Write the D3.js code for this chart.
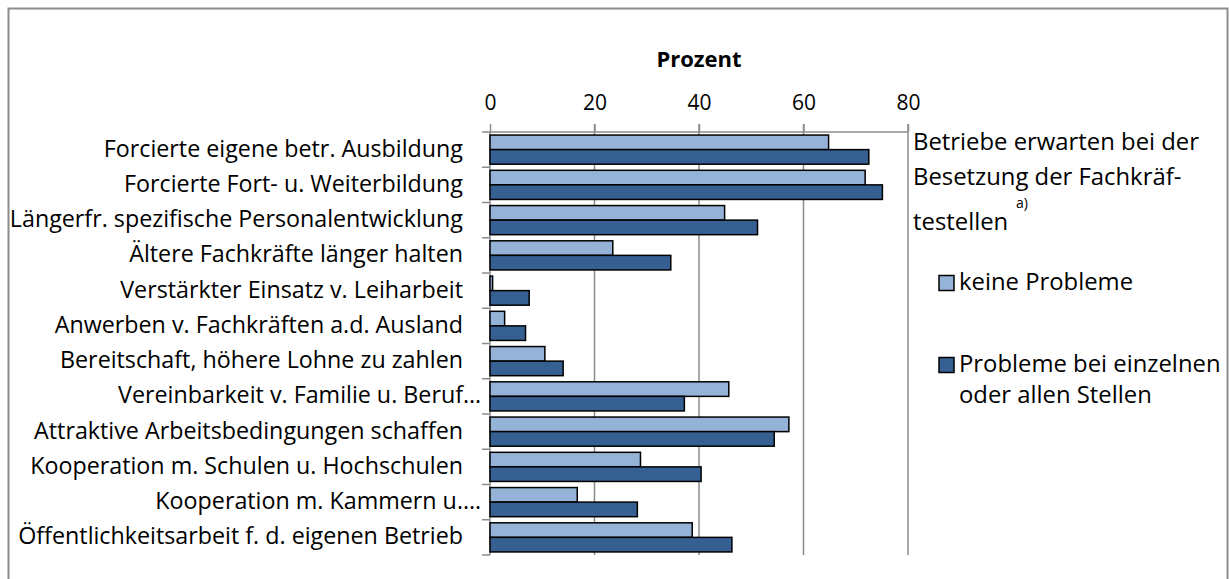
<!DOCTYPE html>
<html><head><meta charset="utf-8">
<script src="https://cdn.jsdelivr.net/npm/d3@7"></script>
<style>body{margin:0;background:#fff}svg{display:block}text{font-family:"Open Sans",sans-serif;fill:#000}</style>
</head><body><svg id="c" width="1229" height="579"></svg>
<script>
const categories = ["Forcierte eigene betr. Ausbildung","Forcierte Fort- u. Weiterbildung","Längerfr. spezifische Personalentwicklung","Ältere Fachkräfte länger halten","Verstärkter Einsatz v. Leiharbeit","Anwerben v. Fachkräften a.d. Ausland","Bereitschaft, höhere Lohne zu zahlen","Vereinbarkeit v. Familie u. Beruf…","Attraktive Arbeitsbedingungen schaffen","Kooperation m. Schulen u. Hochschulen","Kooperation m. Kammern u.…","Öffentlichkeitsarbeit f. d. eigenen Betrieb"];
const keineProbleme = [64.8,71.8,44.9,23.5,0.5,2.8,10.5,45.7,57.2,28.8,16.7,38.7];
const probleme = [72.5,75.1,51.2,34.6,7.5,6.8,14.0,37.2,54.4,40.4,28.2,46.3];
const seriesNames = ["keine Probleme","Probleme bei einzelnen oder allen Stellen"];
const xTicks = [0,20,40,60,80];
const axisTitle = "Prozent";
const legendTitle = ["Betriebe erwarten bei der","Besetzung der Fachkräf-","testellen"];
const colors = ["#95b3d7","#376092"];

const svg = d3.select("#c");
svg.append("rect").attr("x",8.5).attr("y",8.5).attr("width",1219).attr("height",600)
  .attr("fill","none").attr("stroke","#8c8c8c").attr("stroke-width",2);

const x = d3.scaleLinear().domain([0,80]).range([490,908]);
const y = d3.scaleBand().domain(categories).range([132,555]).paddingInner(0).paddingOuter(0);
const inner = d3.scaleBand().domain([0,1]).range([0,y.bandwidth()]).paddingInner(0).paddingOuter(0.21);

function fit(sel, target){
  const w = sel.node().getComputedTextLength();
  const fs = parseFloat(sel.style("font-size"));
  sel.style("font-size", (fs*target/w).toFixed(2)+"px");
  return fs*target/w;
}

// gridlines
svg.append("g").selectAll("line").data(xTicks.slice(1)).join("line")
  .attr("x1",d=>x(d)).attr("x2",d=>x(d)).attr("y1",124).attr("y2",555)
  .attr("stroke","#8c8c8c").attr("stroke-width",1.5);
// top axis
const gx = svg.append("g").attr("transform","translate(0,132)")
  .call(d3.axisTop(x).tickValues(xTicks).tickSize(8).tickPadding(14).tickFormat(d3.format("d")));
gx.select(".domain").attr("stroke","#8c8c8c").attr("stroke-width",1.5).attr("d",`M${x(0)},0H${x(80)}`);
gx.selectAll(".tick line").attr("stroke","#8c8c8c").attr("stroke-width",1.5);
gx.selectAll(".tick text").style("font-size","21px").style("font-family","'Open Sans',sans-serif").attr("fill","#000");
svg.append("text").attr("x",(x(0)+x(80))/2).attr("y",67).attr("text-anchor","middle")
  .style("font-size","22px").style("font-weight","bold").text(axisTitle);

// left axis
const bounds = d3.range(categories.length+1).map(i=>132+i*y.step());
svg.append("g").selectAll("line").data(bounds).join("line")
  .attr("x1",482).attr("x2",490).attr("y1",d=>d).attr("y2",d=>d).attr("stroke","#8c8c8c").attr("stroke-width",1.5);
svg.append("line").attr("x1",490).attr("x2",490).attr("y1",132).attr("y2",555).attr("stroke","#8c8c8c").attr("stroke-width",1.5);

// labels
const lab = svg.append("g");
const probe = lab.append("text").style("font-size","20px").text(categories[11]);
const labFs = fit(probe, 445);
probe.remove();
categories.forEach(c=>{
  const cy = y(c)+y.bandwidth()/2+7;
  if (c.endsWith("…")) {
    lab.append("text").attr("x",463).attr("y",cy).attr("text-anchor","end").style("font-size",labFs+"px").text(c.slice(0,-1));
    lab.append("text").attr("x",463).attr("y",cy).attr("text-anchor","start").style("font-size",labFs+"px").text("…");
  } else {
    lab.append("text").attr("x",463).attr("y",cy).attr("text-anchor","end").style("font-size",labFs+"px").text(c);
  }
});

// bars
[keineProbleme, probleme].forEach((vals,si)=>{
  svg.append("g").selectAll("rect").data(vals).join("rect")
    .attr("x",x(0)).attr("y",(d,i)=>y(categories[i])+inner(si))
    .attr("width",d=>x(d)-x(0)).attr("height",inner.bandwidth())
    .attr("fill",colors[si]).attr("stroke","#000").attr("stroke-width",1.5);
});

// legend
const lg = svg.append("g");
const t0 = lg.append("text").attr("x",913).attr("y",150).style("font-size","20px").text(legendTitle[0]);
const lgFs = fit(t0, 286);
lg.append("text").attr("x",913).attr("y",185).style("font-size",lgFs+"px").text(legendTitle[1]);
lg.append("text").attr("x",913).attr("y",230).style("font-size",lgFs+"px").text(legendTitle[2]);
lg.append("text").attr("x",1016).attr("y",208).style("font-size","14px").text("a)");
const items = [{y:283,lines:[seriesNames[0]]},{y:365,lines:["Probleme bei einzelnen","oder allen Stellen"]}];
items.forEach((it,i)=>{
  lg.append("rect").attr("x",939).attr("y",it.y-7.5).attr("width",15).attr("height",15)
    .attr("fill",colors[i]).attr("stroke","#000").attr("stroke-width",1.5);
  it.lines.forEach((l,j)=>lg.append("text").attr("x",959).attr("y",it.y+7+j*31).style("font-size",lgFs+"px").text(l));
});
</script></body></html>
